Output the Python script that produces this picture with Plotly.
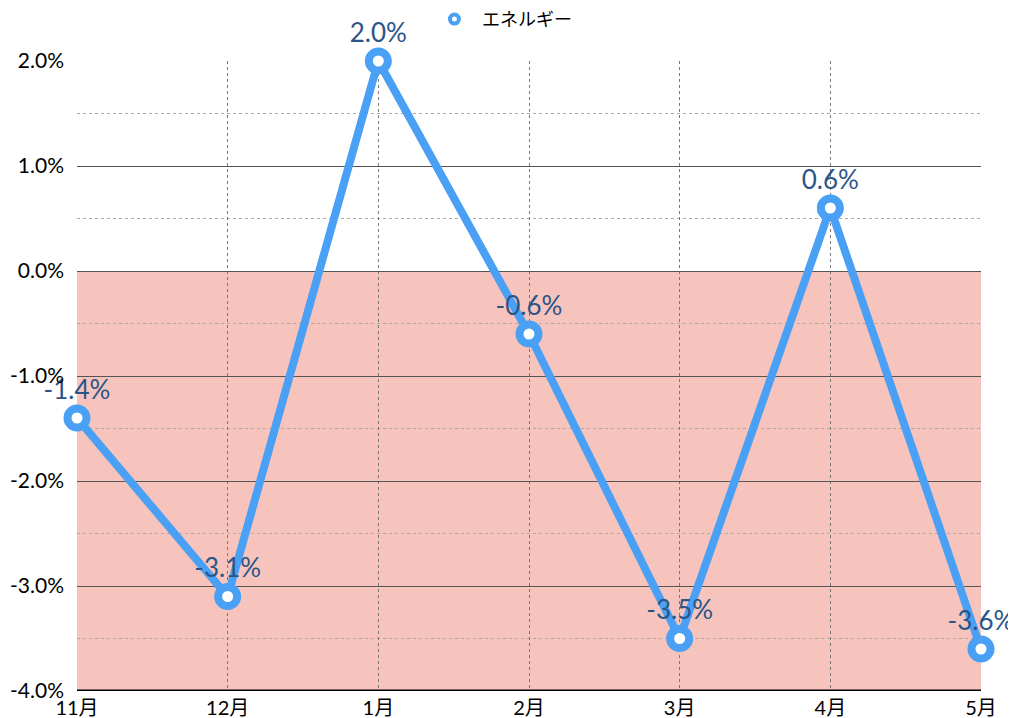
import plotly.graph_objects as go

# データ
months = ['11月', '12月', '1月', '2月', '3月', '4月', '5月']
energy = [-1.4, -3.1, 2.0, -0.6, -3.5, 0.6, -3.6]
series_name = 'エネルギー'
y_ticks = [-4, -3, -2, -1, 0, 1, 2]
y_tick_text = ['-4.0%', '-3.0%', '-2.0%', '-1.0%', '0.0%', '1.0%', '2.0%']

FONT = 'Lato, Noto Sans CJK JP, sans-serif'
BLUE = '#4aa0f5'

fig = go.Figure()
fig.add_trace(go.Scatter(
    x=months,
    y=energy,
    name=series_name,
    mode='lines+markers+text',
    line=dict(color=BLUE, width=8),
    marker=dict(symbol='circle', size=19, color='white',
                line=dict(color=BLUE, width=8)),
    text=[f'{v:.1f}%' for v in energy],
    textposition='top center',
    textfont=dict(family=FONT, size=26, color='#2b5587'),
    cliponaxis=False,
    showlegend=False,
))
# 凡例用（マーカーのみ）
fig.add_trace(go.Scatter(
    x=[None], y=[None],
    name=series_name,
    mode='markers',
    marker=dict(symbol='circle', size=9, color='white',
                line=dict(color=BLUE, width=4)),
))

# マイナス領域の塗り
fig.add_shape(type='rect', xref='paper', yref='y',
              x0=0, x1=1, y0=-4, y1=0,
              fillcolor='#f6c4bc', line_width=0, layer='below')

# ページ余白（8px）の分だけずらす
fig.update_layout(
    width=1008, height=710,
    margin=dict(l=69, r=35, t=53, b=27, autoexpand=False),
    plot_bgcolor='white',
    paper_bgcolor='white',
    font=dict(family=FONT, size=20, color='black'),
    showlegend=True,
    legend=dict(orientation='h', x=0.49, xref='container', xanchor='center',
                y=1.066, yref='paper', yanchor='middle',
                font=dict(size=18), itemwidth=45),
)
fig.update_xaxes(
    range=[0, 6],
    showgrid=True, gridcolor='#777777', griddash='dot', gridwidth=1,
    showline=False, zeroline=False, automargin=False,
    ticks='', tickfont=dict(size=20), ticklabelstandoff=3,
)
fig.update_yaxes(
    range=[-4, 2],
    tickvals=y_ticks, ticktext=y_tick_text,
    showgrid=True, gridcolor='#555555', gridwidth=1,
    minor=dict(dtick=0.5, showgrid=True, gridcolor='#aaaaaa', griddash='dot'),
    zeroline=False, showline=False, automargin=False,
    ticks='', ticklabelstandoff=12, tickfont=dict(size=21),
)
# 下端の軸線
fig.add_shape(type='line', xref='paper', yref='y', x0=0, x1=1, y0=-4, y1=-4,
              line=dict(color='black', width=3))

fig.write_html('out.html')
